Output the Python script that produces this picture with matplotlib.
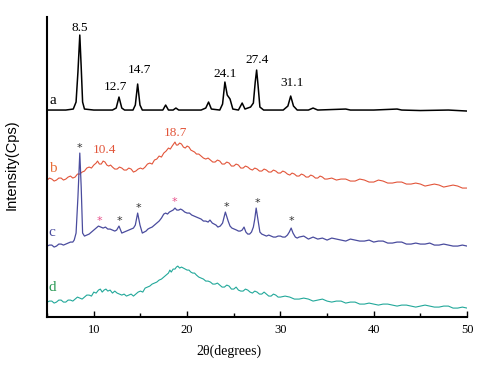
import matplotlib
matplotlib.use("Agg")
import matplotlib.pyplot as plt
from matplotlib.ticker import MultipleLocator

# trace a (black), already stacked
two_theta_a = [5.0, 6.0, 7.0, 7.8, 8.1, 8.3, 8.5, 8.65, 8.8, 9.0, 10.0, 11.0, 12.0, 12.4, 12.7,
               13.0, 13.3, 14.2, 14.45, 14.7, 14.95, 15.2, 16.5, 17.4, 17.7, 18.0, 18.5, 18.8,
               19.1, 21.5, 22.0, 22.3, 22.6, 23.5, 23.8, 24.05, 24.3, 24.6, 24.9, 25.5, 25.9,
               26.2, 26.8, 27.1, 27.3, 27.45, 27.6, 27.8, 28.2, 30.3, 30.8, 31.1, 31.4, 31.8,
               33.0, 33.5, 34.0, 37.0, 37.5, 40.0, 42.5, 43.0, 45.0, 48.0, 50.0]
intensity_a = [207, 207, 207, 208, 215, 245, 282, 250, 215, 208, 207, 207, 207, 209, 220,
               209, 207, 207, 212, 233, 212, 207, 207, 207, 212, 207, 207, 209,
               207, 207, 209, 215, 208, 207, 213, 235, 222, 218, 208, 207, 214,
               208, 210, 214, 235, 247, 232, 210, 207, 207, 211, 221, 211, 207,
               207, 209, 207, 208, 207, 207, 208, 207, 206.5, 207, 206]

# trace b (red): (2theta, intensity)
trace_b = [(5.0, 137), (5.25, 139), (5.5, 138), (5.75, 136), (6.0, 137), (6.25, 139), (6.5, 139),
           (6.75, 137), (7.0, 138), (7.25, 140), (7.5, 141), (7.75, 139), (8.0, 140), (8.25, 143),
           (8.5, 143), (8.75, 145), (9.0, 146), (9.25, 149), (9.5, 150), (9.75, 149), (10.0, 152),
           (10.25, 154), (10.4, 156), (10.6, 153), (10.8, 153), (11.0, 156), (11.2, 155),
           (11.4, 152), (11.6, 151), (11.8, 152), (12.0, 150), (12.25, 148), (12.5, 148),
           (12.75, 150), (13.0, 149), (13.25, 147), (13.5, 147), (13.75, 149), (14.0, 148),
           (14.25, 145), (14.5, 146), (14.75, 148), (15.0, 149), (15.25, 148), (15.5, 150),
           (15.75, 153), (16.0, 154), (16.25, 153), (16.5, 157), (16.75, 158), (17.0, 161),
           (17.25, 160), (17.5, 164), (17.75, 166), (18.0, 169), (18.2, 168), (18.4, 171),
           (18.55, 173), (18.7, 175), (18.85, 172), (19.0, 172), (19.2, 174), (19.4, 173),
           (19.6, 170), (19.8, 169), (20.0, 171), (20.2, 170), (20.4, 167), (20.6, 166),
           (20.8, 165), (21.0, 163), (21.25, 163), (21.5, 161), (21.75, 159), (22.0, 158),
           (22.25, 159), (22.5, 157), (22.75, 155), (23.0, 155), (23.25, 157), (23.5, 156),
           (23.75, 153), (24.0, 153), (24.25, 155), (24.5, 154), (24.75, 151), (25.0, 151),
           (25.25, 153), (25.5, 152), (25.75, 149), (26.0, 149), (26.25, 151), (26.5, 150),
           (26.75, 148), (27.0, 147), (27.25, 149), (27.5, 148), (27.75, 146), (28.0, 146),
           (28.25, 148), (28.5, 147), (28.75, 145), (29.0, 145), (29.25, 147), (29.5, 146),
           (29.75, 144), (30.0, 144), (30.25, 146), (30.5, 145), (30.75, 143), (31.0, 142),
           (31.25, 144), (31.5, 143), (31.75, 141), (32.0, 141), (32.25, 143), (32.5, 142),
           (32.75, 140), (33.0, 140), (33.25, 142), (33.5, 141), (33.75, 139), (34.0, 139),
           (34.25, 141), (34.5, 140), (34.75, 138), (35.0, 138), (35.5, 139), (36.0, 137),
           (36.5, 138), (37.0, 138), (37.5, 136), (38.0, 136), (38.5, 138), (39.0, 137),
           (39.5, 135), (40.0, 135), (40.5, 137), (41.0, 136), (41.5, 134), (42.0, 134),
           (42.5, 135), (43.0, 135), (43.5, 133), (44.0, 133), (44.5, 134), (45.0, 133),
           (45.5, 131), (46.0, 132), (46.5, 133), (47.0, 132), (47.5, 130), (48.0, 131),
           (48.5, 132), (49.0, 131), (49.5, 129), (50.0, 129)]

# trace c (blue)
trace_c = [(5.0, 71), (5.25, 72), (5.5, 72), (5.75, 70), (6.0, 71), (6.25, 73), (6.5, 73),
           (6.75, 72), (7.0, 73), (7.25, 74), (7.5, 75), (7.75, 75), (7.9, 77), (8.1, 84),
           (8.3, 120), (8.5, 164), (8.65, 130), (8.8, 84), (9.0, 81), (9.25, 82), (9.5, 83),
           (9.75, 85), (10.0, 87), (10.25, 89), (10.5, 91), (10.75, 90), (11.0, 89), (11.25, 90),
           (11.5, 88), (11.75, 88), (12.0, 87), (12.25, 86), (12.45, 87), (12.7, 91), (13.0, 84),
           (13.25, 85), (13.5, 86), (13.75, 87), (14.0, 88), (14.25, 89), (14.45, 92), (14.7, 104),
           (14.95, 92), (15.2, 84), (15.4, 85), (15.6, 86), (15.8, 88), (16.0, 89), (16.25, 90),
           (16.5, 92), (16.75, 94), (17.0, 96), (17.25, 99), (17.5, 103), (17.7, 104), (17.9, 103),
           (18.1, 105), (18.3, 106), (18.5, 107), (18.7, 109), (18.9, 107), (19.1, 107),
           (19.3, 108), (19.5, 107), (19.75, 105), (20.0, 104), (20.25, 104), (20.5, 102),
           (20.75, 101), (21.0, 100), (21.25, 99), (21.5, 98), (21.75, 96), (22.0, 96),
           (22.25, 95), (22.45, 97), (22.7, 94), (22.9, 93), (23.1, 92), (23.3, 90), (23.55, 91),
           (23.8, 94), (24.1, 105), (24.4, 96), (24.6, 91), (24.8, 89), (25.05, 88), (25.3, 87),
           (25.5, 86), (25.7, 86), (25.9, 87), (26.1, 90), (26.3, 85), (26.5, 83), (26.7, 83),
           (26.9, 85), (27.1, 90), (27.25, 98), (27.4, 109), (27.6, 97), (27.8, 85), (28.0, 83),
           (28.25, 82), (28.5, 81), (28.75, 82), (29.0, 81), (29.25, 80), (29.5, 80), (29.75, 81),
           (30.0, 81), (30.25, 80), (30.5, 80), (30.75, 82), (30.95, 85), (31.15, 89), (31.35, 84),
           (31.6, 80), (31.8, 79), (32.0, 80), (32.5, 81), (33.0, 78), (33.5, 80), (34.0, 78),
           (34.5, 79), (35.0, 77), (35.5, 79), (36.0, 78), (36.5, 77), (37.0, 76), (37.5, 78),
           (38.0, 77), (38.5, 76), (39.0, 76), (39.5, 77), (40.0, 75), (40.5, 76), (41.0, 76),
           (41.5, 74), (42.0, 74), (42.5, 75), (43.0, 75), (43.5, 73), (44.0, 73), (44.5, 74),
           (45.0, 73), (45.5, 73), (46.0, 74), (46.5, 72), (47.0, 72), (47.5, 73), (48.0, 72),
           (48.5, 71), (49.0, 71), (49.5, 72), (50.0, 71)]

# trace d (teal)
trace_d = [(5.0, 15), (5.25, 16), (5.5, 16), (5.75, 14), (6.0, 15), (6.25, 17), (6.5, 17),
           (6.75, 15), (7.0, 15), (7.25, 17), (7.5, 17), (7.75, 16), (8.0, 18), (8.25, 20),
           (8.5, 19), (8.75, 18), (9.0, 20), (9.25, 22), (9.5, 22), (9.75, 21), (10.0, 25),
           (10.25, 24), (10.5, 27), (10.7, 28), (10.9, 25), (11.1, 27), (11.3, 28), (11.5, 26),
           (11.75, 27), (12.0, 24), (12.25, 26), (12.5, 24), (12.75, 23), (13.0, 22), (13.25, 23),
           (13.5, 21), (13.75, 22), (14.0, 23), (14.25, 21), (14.5, 23), (14.75, 25), (15.0, 26),
           (15.25, 25), (15.5, 29), (15.75, 30), (16.0, 31), (16.25, 33), (16.5, 34), (16.75, 35),
           (17.0, 37), (17.25, 38), (17.5, 40), (17.75, 42), (18.0, 44), (18.15, 47), (18.3, 45),
           (18.5, 48), (18.7, 48), (18.85, 50), (19.0, 51), (19.2, 49), (19.4, 50), (19.6, 49),
           (19.8, 48), (20.0, 47), (20.2, 47), (20.4, 45), (20.6, 44), (20.8, 44), (21.0, 42),
           (21.25, 40), (21.5, 39), (21.75, 38), (22.0, 36), (22.25, 36), (22.5, 35), (22.75, 33),
           (23.0, 33), (23.25, 34), (23.5, 32), (23.75, 30), (24.0, 30), (24.25, 32), (24.5, 31),
           (24.75, 28), (25.0, 28), (25.25, 30), (25.5, 27), (25.75, 26), (26.0, 26), (26.25, 28),
           (26.5, 27), (26.75, 25), (27.0, 24), (27.25, 26), (27.5, 25), (27.75, 23), (28.0, 23),
           (28.25, 25), (28.5, 23), (28.75, 21), (29.0, 21), (29.25, 23), (29.5, 22), (29.75, 20),
           (30.0, 20), (30.5, 21), (31.0, 20), (31.5, 18), (32.0, 18), (32.5, 19), (33.0, 18),
           (33.5, 16), (34.0, 17), (34.5, 18), (35.0, 16), (35.5, 15), (36.0, 16), (36.5, 16),
           (37.0, 14), (37.5, 15), (38.0, 15), (38.5, 13), (39.0, 13), (39.5, 14), (40.0, 13),
           (40.5, 12), (41.0, 13), (41.5, 13), (42.0, 12), (42.5, 11), (43.0, 12), (43.5, 12),
           (44.0, 11), (44.5, 10), (45.0, 11), (45.5, 12), (46.0, 11), (46.5, 10), (47.0, 10),
           (47.5, 11), (48.0, 11), (48.5, 9), (49.0, 9), (49.5, 10), (50.0, 9)]

two_theta_b, intensity_b = zip(*trace_b)
two_theta_c, intensity_c = zip(*trace_c)
two_theta_d, intensity_d = zip(*trace_d)

peak_labels_a = ["8.5", "12.7", "14.7", "24.1", "27.4", "31.1"]
peak_pos_a = [(8.5, 289), (12.35, 230), (14.9, 247), (24.1, 243), (27.5, 257), (31.2, 234)]
peak_labels_b = ["10.4", "18.7"]
peak_pos_b = [(11.1, 167), (18.7, 184)]
star_pos_black = [(8.5, 169), (12.8, 96), (14.8, 109), (24.2, 110), (27.5, 114), (31.2, 96)]
star_pos_pink = [(10.65, 96), (18.65, 115)]

serif = "Liberation Serif"

fig = plt.figure(figsize=(4.81, 3.70), dpi=100)
ax = fig.add_axes([0.098, 0.143, 0.873, 0.811])

ax.plot(two_theta_a, intensity_a, color="black", lw=1.1)
ax.plot(two_theta_b, intensity_b, color="#e2553a", lw=0.8)
ax.plot(two_theta_c, intensity_c, color="#4a4c9e", lw=0.9)
ax.plot(two_theta_d, intensity_d, color="#22a89a", lw=0.8)

for txt, (x, y) in zip(peak_labels_a, peak_pos_a):
    ax.text(x, y, txt, ha="center", va="center", fontsize=9.5, family=serif, color="black")
for txt, (x, y) in zip(peak_labels_b, peak_pos_b):
    ax.text(x, y, txt, ha="center", va="center", fontsize=9.5, family=serif, color="#e2553a")
for x, y in star_pos_black:
    ax.text(x, y, "*", ha="center", va="center", fontsize=8, color="#333333")
for x, y in star_pos_pink:
    ax.text(x, y, "*", ha="center", va="center", fontsize=8, color="#e8508a")

ax.text(5.6, 217, "a", ha="center", va="center", fontsize=11, family=serif, color="black")
ax.text(5.6, 149, "b", ha="center", va="center", fontsize=11, family=serif, color="#e8703a")
ax.text(5.5, 85, "c", ha="center", va="center", fontsize=11, family=serif, color="#4a4c9e")
ax.text(5.5, 30, "d", ha="center", va="center", fontsize=11, family=serif, color="#2a9a55")

ax.set_xlim(5, 50)
ax.set_ylim(0, 300)
ax.spines["top"].set_visible(False)
ax.spines["right"].set_visible(False)
ax.spines["left"].set_linewidth(1.5)
ax.spines["bottom"].set_linewidth(1.5)
ax.set_yticks([])
ax.xaxis.set_major_locator(MultipleLocator(10))
ax.xaxis.set_minor_locator(MultipleLocator(5))
ax.tick_params(axis="x", which="major", direction="in", length=4, width=1, labelsize=9, pad=5)
ax.tick_params(axis="x", which="minor", direction="in", length=3, width=1)
for lab in ax.get_xticklabels():
    lab.set_family(serif)

fig.text(0.476, 0.05, "2θ(degrees)", ha="center", va="center", fontsize=10, family=serif)
fig.text(0.025, 0.554, "Intensity(Cps)", ha="center", va="center", rotation=90, fontsize=10.5,
         family="Liberation Sans")

fig.savefig("out.png", dpi=100)
